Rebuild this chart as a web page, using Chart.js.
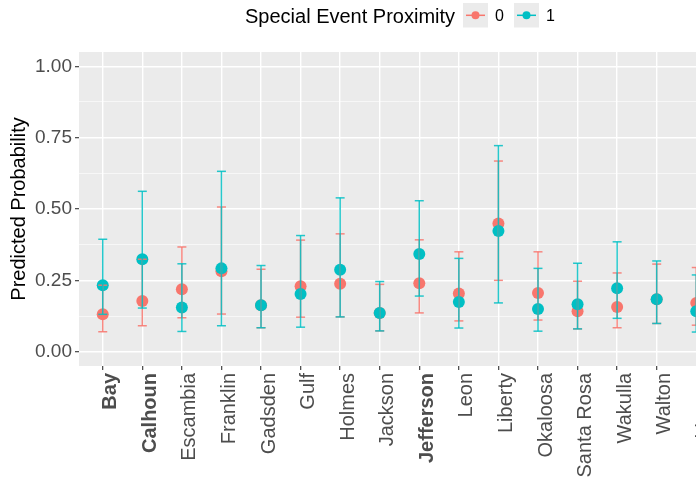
<!DOCTYPE html>
<html>
<head>
<meta charset="utf-8">
<script src="https://cdn.jsdelivr.net/npm/chart.js@4/dist/chart.umd.min.js"></script>
<style>
  html, body { margin: 0; padding: 0; background: #ffffff; overflow: hidden; width: 696px; height: 483px; }
  #wrap { width: 726px; height: 483px; }
</style>
</head>
<body>
<div id="wrap"><canvas id="c" width="726" height="483"></canvas></div>
<script>
// ---- data ----
const counties = ['Bay', 'Calhoun', 'Escambia', 'Franklin', 'Gadsden', 'Gulf', 'Holmes', 'Jackson',
                  'Jefferson', 'Leon', 'Liberty', 'Okaloosa', 'Santa Rosa', 'Wakulla', 'Walton', 'Washington'];
const boldCounties = ['Bay', 'Calhoun', 'Jefferson'];
const groupLabels = ['0', '1'];
const legendTitle = 'Special Event Proximity';
const yTitle = 'Predicted Probability';

const prob0  = [0.131, 0.178, 0.219, 0.282, 0.163, 0.229, 0.238, 0.136, 0.240, 0.204, 0.449, 0.206, 0.142, 0.157, 0.184, 0.171];
const lower0 = [0.070, 0.091, 0.119, 0.132, 0.084, 0.121, 0.122, 0.073, 0.136, 0.108, 0.250, 0.111, 0.080, 0.084, 0.099, 0.093];
const upper0 = [0.233, 0.324, 0.367, 0.507, 0.289, 0.391, 0.413, 0.236, 0.392, 0.350, 0.668, 0.350, 0.247, 0.276, 0.307, 0.295];

const prob1  = [0.233, 0.324, 0.155, 0.292, 0.163, 0.202, 0.287, 0.136, 0.342, 0.174, 0.423, 0.150, 0.166, 0.222, 0.184, 0.142];
const lower1 = [0.131, 0.153, 0.071, 0.091, 0.084, 0.086, 0.122, 0.073, 0.195, 0.083, 0.171, 0.072, 0.080, 0.117, 0.099, 0.069];
const upper1 = [0.394, 0.562, 0.308, 0.632, 0.302, 0.407, 0.539, 0.246, 0.529, 0.327, 0.722, 0.292, 0.310, 0.385, 0.318, 0.269];

const yMajorTicks = [0, 0.25, 0.5, 0.75, 1];
const yMinorTicks = [0.125, 0.375, 0.625, 0.875];

// ---- styles ----
const RED = '#F8766D', TEAL = '#00BFC4';
const RED_BAR = 'rgba(248,118,109,0.85)', TEAL_BAR = 'rgba(0,191,196,0.85)';
const FONT = "'Liberation Sans', Arial, sans-serif";

const pts = arr => arr.map((v, i) => ({ x: i, y: v }));
const segs = (lo, hi) => {
  const out = [];
  lo.forEach((v, i) => { out.push({ x: i, y: v }, { x: i, y: hi[i] }, { x: i, y: null }); });
  return out;
};
const barLine = (lo, hi, color) => ({
  type: 'line', data: segs(lo, hi), borderColor: color, borderWidth: 1.5,
  pointRadius: 0, spanGaps: false, fill: false, tension: 0
});
const caps = (vals, color) => ({
  type: 'scatter', data: pts(vals), pointStyle: 'line', pointRadius: 4.5,
  borderColor: color, pointBorderWidth: 1.5, borderWidth: 1.5, backgroundColor: color
});
const dots = (vals, color) => ({
  type: 'scatter', data: pts(vals), pointStyle: 'circle', pointRadius: 6,
  backgroundColor: color, borderColor: color, borderWidth: 0, pointBorderWidth: 0
});

// first dataset in the list is drawn on top
const datasets = [
  barLine(lower1, upper1, TEAL_BAR), caps(lower1, TEAL_BAR), caps(upper1, TEAL_BAR),
  barLine(lower0, upper0, RED_BAR), caps(lower0, RED_BAR), caps(upper0, RED_BAR),
  dots(prob1, TEAL),
  dots(prob0, RED)
];

const panelBg = {
  id: 'panelBg',
  beforeDraw(chart) {
    const { ctx, chartArea: a } = chart;
    ctx.save();
    ctx.fillStyle = '#EBEBEB';
    ctx.fillRect(a.left, a.top, a.right - a.left, a.bottom - a.top);
    ctx.restore();
  }
};

const ggLegend = {
  id: 'ggLegend',
  afterDraw(chart) {
    const ctx = chart.ctx;
    ctx.save();
    ctx.textBaseline = 'alphabetic';
    ctx.textAlign = 'left';
    ctx.fillStyle = '#000';
    ctx.font = `20px ${FONT}`;
    ctx.fillText(legendTitle, 245, 23);
    const keys = [{ x: 463, c: RED, t: groupLabels[0], tx: 495 }, { x: 514, c: TEAL, t: groupLabels[1], tx: 546 }];
    keys.forEach(k => {
      ctx.fillStyle = '#EBEBEB';
      ctx.fillRect(k.x, 3, 25, 24.5);
      ctx.strokeStyle = k.c;
      ctx.lineWidth = 1.5;
      ctx.beginPath();
      ctx.moveTo(k.x + 3, 15.3);
      ctx.lineTo(k.x + 22, 15.3);
      ctx.stroke();
      ctx.fillStyle = k.c;
      ctx.beginPath();
      ctx.arc(k.x + 12.5, 15.3, 4, 0, Math.PI * 2);
      ctx.fill();
      ctx.fillStyle = '#000';
      ctx.font = `16px ${FONT}`;
      ctx.fillText(k.t, k.tx, 21);
    });
    ctx.restore();
  }
};

new Chart(document.getElementById('c'), {
  type: 'scatter',
  data: { datasets },
  plugins: [panelBg, ggLegend],
  options: {
    responsive: false,
    animation: false,
    devicePixelRatio: 1,
    layout: { padding: { top: 52, left: 0, right: 0, bottom: 0 } },
    plugins: { legend: { display: false }, tooltip: { enabled: false } },
    scales: {
      x: {
        type: 'linear', min: -0.6, max: 15.6,
        afterBuildTicks: s => { s.ticks = counties.map((c, i) => ({ value: i })); },
        afterFit: s => { s.height = 117; s.paddingLeft = 0; s.paddingRight = 0; },
        grid: { color: '#FFFFFF', lineWidth: 1.4, drawTicks: true, tickLength: 4, tickColor: '#333333', tickWidth: 1.1 },
        border: { display: false },
        ticks: {
          autoSkip: false, minRotation: 90, maxRotation: 90, padding: 3, labelOffset: 8,
          color: '#4D4D4D',
          callback: v => counties[v],
          font: ctx => ({ family: FONT, size: 20, weight: (ctx.tick && boldCounties.includes(counties[ctx.tick.value])) ? 'bold' : 'normal' })
        }
      },
      y: {
        type: 'linear', min: -0.05, max: 1.05,
        afterBuildTicks: s => { s.ticks = [...yMajorTicks, ...yMinorTicks].sort((a, b) => a - b).map(v => ({ value: v })); },
        afterFit: s => { s.width = 79; s.paddingTop = 0; s.paddingBottom = 0; },
        grid: {
          color: '#FFFFFF',
          lineWidth: ctx => (ctx.tick && yMajorTicks.includes(ctx.tick.value)) ? 1.4 : 0.6,
          drawTicks: true, tickLength: 4,
          tickColor: ctx => (ctx.tick && yMajorTicks.includes(ctx.tick.value)) ? '#333333' : 'rgba(0,0,0,0)',
          tickWidth: 1.1
        },
        border: { display: false },
        ticks: {
          padding: 3, color: '#4D4D4D', font: { family: FONT, size: 19 },
          callback: v => yMajorTicks.includes(v) ? v.toFixed(2) : ''
        },
        title: { display: true, text: yTitle, color: '#000', font: { family: FONT, size: 20 }, padding: { top: 7, bottom: 0 } }
      }
    }
  }
});
</script>
</body>
</html>
